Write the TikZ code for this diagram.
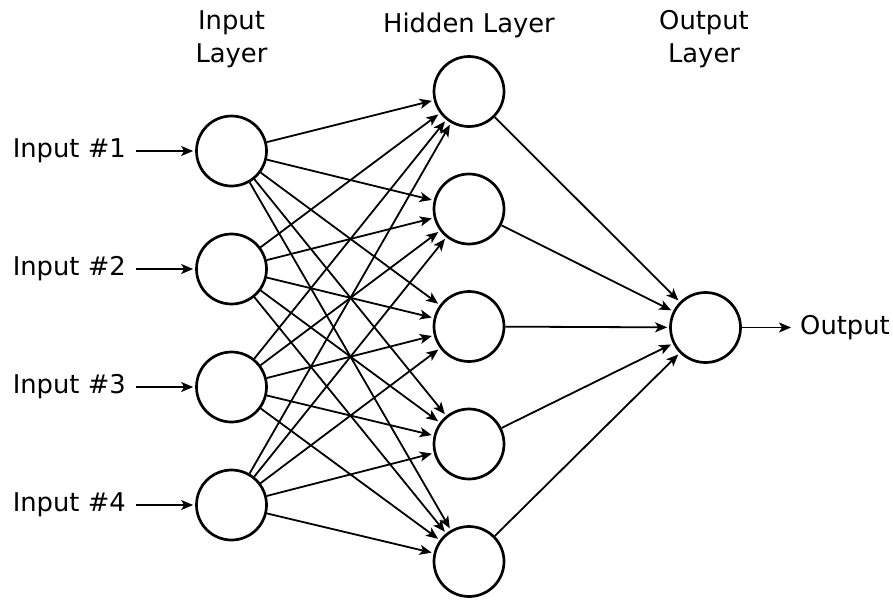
\documentclass[tikz,border=0pt]{standalone}
\usepackage{fontspec}
\setmainfont{DejaVu Sans}
\usetikzlibrary{arrows.meta}

\tikzset{
    neuron/.style={circle,draw,line width=2.7pt,minimum size=70pt,inner sep=0pt},
    conn/.style={-{Stealth[length=12pt,width=10pt,inset=3pt]},line width=1.8pt,shorten >=2pt},
    lbl/.style={inner sep=0pt,font=\fontsize{25.8}{33}\selectfont}
}

\begin{document}
\begin{tikzpicture}[x=1pt,y=-1pt]
    \useasboundingbox (0,0) rectangle (893,603);

    % 输入层
    \foreach \i in {1,...,4}
        \node[neuron] (in\i) at (231.5,{151+118*(\i-1)}) {};
    % 隐藏层
    \foreach \j in {1,...,5}
        \node[neuron] (hid\j) at (469,{91.5+117.5*(\j-1)}) {};
    % 输出层
    \node[neuron] (out) at (705.5,327.5) {};

    % 层标题
    \node[lbl,anchor=north,align=center] (inhead) at (231.5,10) {Input\\Layer};
    \node[lbl,anchor=north] (hidhead) at (469,13) {Hidden Layer};
    \node[lbl,anchor=north,align=center] (outhead) at (704,10) {Output\\Layer};

    % 输入标签
    \foreach \i in {1,...,4} {
        \node[lbl,anchor=east,inner xsep=10pt] (lab\i) at (136,{151+118*(\i-1)}) {Input \#\i};
        \draw[conn] (lab\i) -- (in\i);
    }

    % 全连接
    \foreach \i in {1,...,4}
        \foreach \j in {1,...,5}
            \draw[conn] (in\i) -- (hid\j);
    \foreach \j in {1,...,5}
        \draw[conn] (hid\j) -- (out);

    % 输出
    \node[lbl,anchor=west,inner xsep=7pt] (outlab) at (793,327.5) {Output};
    \draw[conn] (out) -- (outlab);
\end{tikzpicture}
\end{document}
